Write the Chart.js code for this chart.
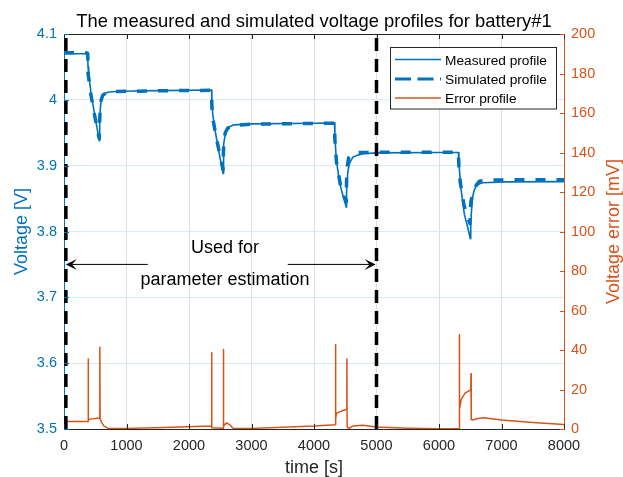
<!DOCTYPE html>
<html><head><meta charset="utf-8">
<script src="https://cdn.jsdelivr.net/npm/chart.js@4.4.1/dist/chart.umd.min.js"></script>
<style>html,body{margin:0;padding:0;background:#fff;}#wrap{width:623px;height:477px;}</style>
</head><body><div id="wrap"><canvas id="c" width="623" height="477"></canvas></div>
<script>
// ---------- data ----------
const chartTitle = 'The measured and simulated voltage profiles for battery#1';
const seriesNames = ['Measured profile', 'Simulated profile', 'Error profile'];
const timeTicks = [0, 1000, 2000, 3000, 4000, 5000, 6000, 7000, 8000];
const voltTicks = [3.5, 3.6, 3.7, 3.8, 3.9, 4.0, 4.1];
const voltTickLabels = ['3.5', '3.6', '3.7', '3.8', '3.9', '4', '4.1'];
const errTicks = [0, 20, 40, 60, 80, 100, 120, 140, 160, 180, 200];
const splitTimes = [30, 5000];

const measuredT = [0, 370, 380, 384, 395, 430, 468, 520, 564, 568, 574, 582, 595, 620, 660, 720, 900, 1500, 2360,
  2366, 2380, 2420, 2480, 2545, 2550, 2557, 2575, 2600, 2650, 2720, 3000, 4000, 4328,
  4334, 4356, 4400, 4436, 4480, 4516, 4521, 4528, 4545, 4569, 4622, 4700, 4782, 5000, 6000, 6310,
  6318, 6330, 6353, 6406, 6460, 6502, 6508, 6515, 6538, 6565, 6592, 6650, 6700, 7070, 8000];
const measuredV = [4.070, 4.070, 4.069, 4.050, 4.040, 4.012, 3.990, 3.962, 3.938, 3.950, 3.972, 3.988, 3.999, 4.006, 4.010, 4.012, 4.013, 4.014, 4.015,
  4.000, 3.978, 3.952, 3.920, 3.888, 3.912, 3.932, 3.945, 3.953, 3.959, 3.962, 3.9635, 3.9645, 3.965,
  3.945, 3.910, 3.880, 3.864, 3.849, 3.837, 3.858, 3.876, 3.893, 3.904, 3.913, 3.916, 3.918, 3.9195, 3.920, 3.920,
  3.905, 3.890, 3.864, 3.826, 3.806, 3.789, 3.808, 3.825, 3.853, 3.863, 3.869, 3.8725, 3.874, 3.8754, 3.8758];

const simulatedT = [0, 370, 380, 385, 400, 430, 470, 520, 564, 569, 578, 592, 620, 680, 800, 1500, 2360,
  2366, 2385, 2430, 2490, 2545, 2550, 2558, 2580, 2620, 2700, 3000, 4328,
  4334, 4360, 4420, 4480, 4516, 4522, 4535, 4555, 4600, 4700, 5000, 6310,
  6318, 6340, 6400, 6460, 6496, 6503, 6512, 6540, 6565, 6600, 6645, 6750, 6965, 8000];
const simulatedV = [4.0715, 4.0712, 4.070, 4.040, 4.030, 4.008, 3.986, 3.962, 3.941, 3.962, 3.985, 3.999, 4.007, 4.011, 4.0125, 4.0138, 4.0145,
  3.990, 3.970, 3.946, 3.918, 3.894, 3.918, 3.938, 3.950, 3.957, 3.961, 3.963, 3.9645,
  3.940, 3.905, 3.872, 3.853, 3.845, 3.880, 3.900, 3.912, 3.918, 3.9198, 3.9203, 3.9205,
  3.900, 3.875, 3.840, 3.822, 3.812, 3.835, 3.846, 3.858, 3.864, 3.871, 3.8763, 3.8778, 3.8784, 3.8786];

const errorT = [0, 380, 386, 388, 390, 400, 480, 560, 572, 575, 578, 600, 640, 700, 1000, 1600, 2360, 2362, 2364, 2367,
  2548, 2551, 2554, 2600, 2650, 2705, 3000, 4000, 4342, 4345, 4348, 4360, 4450, 4520, 4526, 4530, 4560, 4620, 4780,
  5000, 5500, 6000, 6323, 6326, 6329, 6355, 6420, 6500, 6509, 6512, 6516, 6540, 6600, 6716, 7000, 7500, 8000];
const errorMV = [3.8, 3.8, 3.8, 35.5, 4.2, 5, 5.2, 5.6, 6, 41.4, 5, 3.5, 1.5, 0.4, 0.3, 0.8, 1.5, 1.5, 38.6, 0.6,
  0.4, 40.3, 1.5, 3.1, 2.2, 0.4, 0.3, 1.5, 2.2, 42.6, 5.2, 8, 9.2, 10, 35.5, 1.0, 0.3, 1.5, 1.9,
  1.0, 0.4, 0.1, 0.3, 47.8, 10, 15, 18.3, 19.6, 20, 28, 4.8, 4.5, 5.2, 5.7, 4.6, 3.3, 2.3];

// ---------- styles ----------
const BLUE = '#0072BD', ORANGE = '#D95319', DARK = '#262626';
const FONT = "'Liberation Sans', Arial, Helvetica, sans-serif";
Chart.defaults.font.family = FONT;

const pts = (xs, ys) => xs.map((t, i) => ({x: t, y: ys[i]}));
const splitSets = splitTimes.map(t => ({
  label: 'split', data: [{x: t, y: voltTicks[0]}, {x: t, y: voltTicks[voltTicks.length - 1]}],
  borderColor: '#000', borderWidth: 3.5, borderDash: [13, 8], pointRadius: 0, yAxisID: 'y'
}));

const extras = {
  id: 'extras',
  afterDraw(chart) {
    const {ctx, chartArea: a, scales: {x, y, y2}} = chart;
    const line = (x1, y1, x2, y2_) => { ctx.beginPath(); ctx.moveTo(x1, y1); ctx.lineTo(x2, y2_); ctx.stroke(); };
    ctx.save();
    ctx.lineWidth = 1;
    // top border
    ctx.strokeStyle = DARK;
    line(a.left, a.top + 0.5, a.right + 1, a.top + 0.5);
    // inside ticks
    timeTicks.forEach(v => { const p = Math.round(x.getPixelForValue(v)) + 0.5; line(p, a.bottom, p, a.bottom - 5); line(p, a.top, p, a.top + 5); });
    ctx.strokeStyle = BLUE;
    voltTicks.forEach(v => { const p = Math.round(y.getPixelForValue(v)) + 0.5; line(a.left, p, a.left + 5, p); });
    ctx.strokeStyle = ORANGE;
    errTicks.forEach(v => { const p = Math.round(y2.getPixelForValue(v)) + 0.5; line(a.right + 1, p, a.right - 4, p); });

    // arrows
    const ay = y.getPixelForValue(3.75);
    ctx.strokeStyle = '#000'; ctx.fillStyle = '#000';
    const arrow = (fromT, toT) => {
      const x1 = x.getPixelForValue(fromT), x2 = x.getPixelForValue(toT);
      const d = Math.sign(x2 - x1), L = 11, W = 5.5;
      line(x1, ay, x2 - d * 6, ay);
      ctx.beginPath(); ctx.moveTo(x2, ay); ctx.lineTo(x2 - d * L, ay - W); ctx.lineTo(x2 - d * L * 0.55, ay);
      ctx.lineTo(x2 - d * L, ay + W); ctx.closePath(); ctx.fill();
    };
    arrow(1340, 30); arrow(3580, 4985);
    ctx.font = '18px ' + FONT; ctx.textAlign = 'center'; ctx.textBaseline = 'alphabetic';
    ctx.fillText('Used for', 225, 253);
    ctx.fillText('parameter estimation', 225, 285);

    // title
    ctx.font = '18.4px ' + FONT;
    ctx.fillText(chartTitle, (a.left + a.right) / 2, 27);

    // right axis title
    ctx.save();
    ctx.font = '18px ' + FONT;
    ctx.translate(614, (a.top + a.bottom) / 2);
    ctx.rotate(-Math.PI / 2);
    ctx.fillStyle = ORANGE; ctx.textBaseline = 'middle';
    ctx.fillText('Voltage error [mV]', 0, 0);
    ctx.restore();

    // legend
    ctx.fillStyle = '#fff'; ctx.fillRect(390.5, 47.5, 166, 61.5);
    ctx.strokeStyle = DARK; ctx.strokeRect(390.5, 47.5, 166, 61.5);
    const rows = [
      {c: BLUE, w: 1.6, dash: [], ly: 59.5, ty: 65},
      {c: BLUE, w: 3.2, dash: [16, 6.5], ly: 79, ty: 84},
      {c: ORANGE, w: 1.5, dash: [], ly: 98, ty: 103}
    ];
    ctx.font = '13.7px ' + FONT; ctx.textAlign = 'left';
    rows.forEach((r, i) => {
      ctx.strokeStyle = r.c; ctx.lineWidth = r.w; ctx.setLineDash(r.dash);
      line(395, r.ly, 441, r.ly);
      ctx.setLineDash([]);
      ctx.fillStyle = '#000'; ctx.fillText(seriesNames[i], 445, r.ty);
    });
    ctx.restore();
  }
};

new Chart(document.getElementById('c'), {
  type: 'line',
  data: {
    datasets: [
      ...splitSets,
      {label: seriesNames[1], data: pts(simulatedT, simulatedV), borderColor: BLUE, borderWidth: 3.5, borderDash: [10, 11], pointRadius: 0, yAxisID: 'y'},
      {label: seriesNames[0], data: pts(measuredT, measuredV), borderColor: BLUE, borderWidth: 1.6, pointRadius: 0, yAxisID: 'y'},
      {label: seriesNames[2], data: pts(errorT, errorMV), borderColor: ORANGE, borderWidth: 1.5, pointRadius: 0, yAxisID: 'y2'}
    ]
  },
  options: {
    responsive: false, animation: false, devicePixelRatio: 1,
    parsing: false, normalized: true,
    layout: {padding: {top: 34, left: 0, right: 0, bottom: 0}},
    elements: {line: {tension: 0, borderCapStyle: 'butt', borderJoinStyle: 'round'}},
    plugins: {legend: {display: false}, title: {display: false}, tooltip: {enabled: false}},
    scales: {
      x: {
        type: 'linear', min: 0, max: 8000,
        afterBuildTicks: s => { s.ticks = timeTicks.map(v => ({value: v})); },
        afterFit: s => { s.height = 48; },
        ticks: {color: DARK, font: {size: 14.5}, padding: 8, maxRotation: 0, autoSkip: false, callback: v => String(v)},
        grid: {color: 'rgb(223,223,223)', drawTicks: false, lineWidth: 1},
        border: {color: DARK, width: 1},
        title: {display: true, text: 'time [s]', color: DARK, font: {size: 18, lineHeight: 1}, padding: 0}
      },
      y: {
        type: 'linear', position: 'left', min: 3.5, max: 4.1,
        afterBuildTicks: s => { s.ticks = voltTicks.map(v => ({value: v})); },
        afterFit: s => { s.width = 64; },
        ticks: {color: BLUE, font: {size: 14.5}, padding: 7, autoSkip: false,
          callback: (v, i) => voltTickLabels[i]},
        grid: {color: 'rgb(217,234,245)', drawTicks: false, lineWidth: 1},
        border: {color: BLUE, width: 1},
        title: {display: true, text: 'Voltage [V]', color: BLUE, font: {size: 18, lineHeight: 1}, padding: {top: 13, bottom: 0}}
      },
      y2: {
        type: 'linear', position: 'right', min: 0, max: 200,
        afterBuildTicks: s => { s.ticks = errTicks.map(v => ({value: v})); },
        afterFit: s => { s.width = 59; },
        ticks: {color: ORANGE, font: {size: 14.5}, padding: 7, autoSkip: false, callback: v => String(v)},
        grid: {drawOnChartArea: false, drawTicks: false},
        border: {color: ORANGE, width: 1}
      }
    }
  },
  plugins: [extras]
});
</script>
</body></html>
